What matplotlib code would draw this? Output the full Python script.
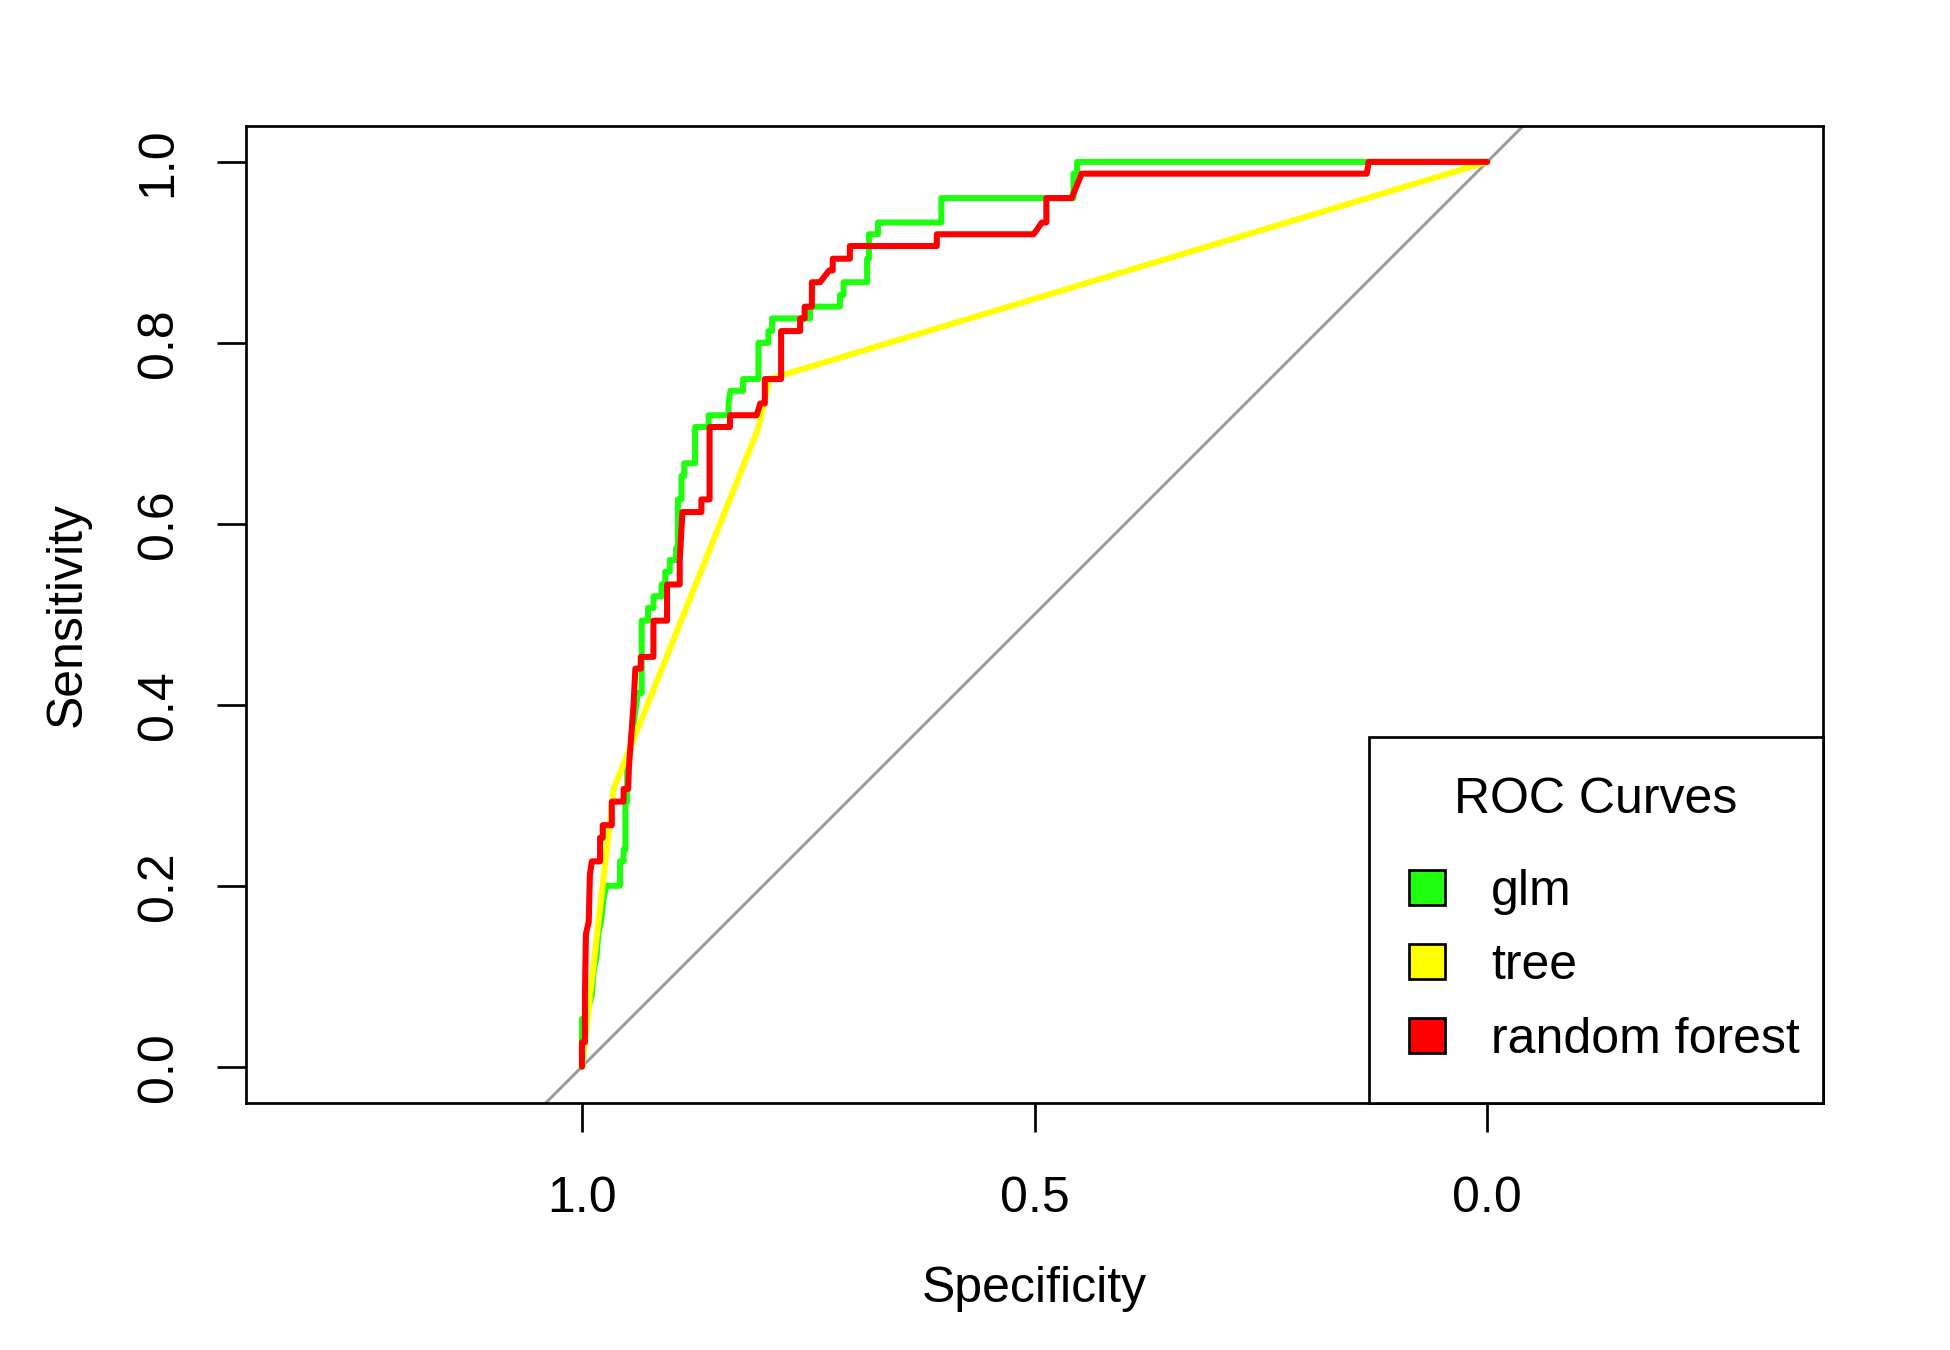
# ROC curves for three classifiers (glm, tree, random forest)
# specificity runs from 1 on the left to 0 on the right, like pROC draws it

import matplotlib
matplotlib.use("Agg")
import matplotlib.pyplot as plt
from matplotlib.patches import Patch

plt.rcParams["font.family"] = ["Liberation Sans", "DejaVu Sans"]

# ==========================================
# DATA
# ==========================================

glm_spec = [1.0, 1.0, 0.996, 0.989, 0.987, 0.984, 0.982, 0.979, 0.976, 0.973,
            0.958, 0.958, 0.954, 0.954, 0.952, 0.952, 0.95, 0.95, 0.945, 0.942,
            0.938, 0.934, 0.934, 0.927, 0.927, 0.921, 0.921, 0.912, 0.912, 0.908,
            0.908, 0.903, 0.903, 0.896, 0.896, 0.894, 0.894, 0.89, 0.89, 0.887,
            0.887, 0.875, 0.875, 0.86, 0.86, 0.838, 0.838, 0.836, 0.822, 0.822,
            0.805, 0.805, 0.794, 0.794, 0.79, 0.79, 0.748, 0.748, 0.715, 0.715,
            0.711, 0.711, 0.685, 0.685, 0.683, 0.683, 0.673, 0.673, 0.603, 0.603,
            0.457, 0.457, 0.453, 0.453, 0.0]
glm_sens = [0.0, 0.053, 0.053, 0.08, 0.107, 0.12, 0.147, 0.16, 0.187, 0.2,
            0.2, 0.227, 0.227, 0.24, 0.24, 0.293, 0.293, 0.333, 0.36, 0.387,
            0.413, 0.413, 0.493, 0.493, 0.507, 0.507, 0.52, 0.52, 0.533, 0.533,
            0.547, 0.547, 0.56, 0.56, 0.573, 0.573, 0.627, 0.627, 0.653, 0.653,
            0.667, 0.667, 0.707, 0.707, 0.72, 0.72, 0.733, 0.747, 0.747, 0.76,
            0.76, 0.8, 0.8, 0.813, 0.813, 0.827, 0.827, 0.84, 0.84, 0.853,
            0.853, 0.867, 0.867, 0.893, 0.893, 0.92, 0.92, 0.933, 0.933, 0.96,
            0.96, 0.987, 0.987, 1.0, 1.0]

tree_spec = [1.0, 0.965, 0.805, 0.793, 0.0]
tree_sens = [0.0, 0.307, 0.706, 0.76, 1.0]

rf_spec = [1.0, 1.0, 0.9967, 0.9967, 0.9956, 0.9925, 0.9912, 0.989, 0.98, 0.98,
           0.977, 0.977, 0.967, 0.967, 0.954, 0.954, 0.949, 0.948, 0.945, 0.943,
           0.941, 0.935, 0.935, 0.921, 0.921, 0.906, 0.906, 0.892, 0.892, 0.889,
           0.868, 0.868, 0.859, 0.859, 0.8365, 0.8365, 0.807, 0.803, 0.798, 0.798,
           0.78, 0.78, 0.759, 0.759, 0.754, 0.754, 0.746, 0.746, 0.737, 0.727,
           0.723, 0.723, 0.704, 0.704, 0.608, 0.608, 0.501, 0.492, 0.487, 0.487,
           0.459, 0.448, 0.133, 0.131, 0.0]
rf_sens = [0.0, 0.027, 0.027, 0.08, 0.147, 0.16, 0.213, 0.227, 0.227, 0.253,
           0.253, 0.267, 0.267, 0.293, 0.293, 0.307, 0.307, 0.333, 0.373, 0.4,
           0.44, 0.44, 0.453, 0.453, 0.493, 0.493, 0.533, 0.533, 0.56, 0.613,
           0.613, 0.627, 0.627, 0.707, 0.707, 0.72, 0.72, 0.733, 0.733, 0.76,
           0.76, 0.813, 0.813, 0.827, 0.827, 0.84, 0.84, 0.867, 0.867, 0.88,
           0.88, 0.893, 0.893, 0.907, 0.907, 0.92, 0.92, 0.933, 0.933, 0.96,
           0.96, 0.987, 0.987, 1.0, 1.0]

model_names = ["glm", "tree", "random forest"]
model_colors = ["#1eff0f", "#ffff00", "#ff0000"]

x_ticks = [1.0, 0.5, 0.0]
y_ticks = [0.0, 0.2, 0.4, 0.6, 0.8, 1.0]

# ==========================================
# PLOT
# ==========================================

fs = 24
fig = plt.figure(figsize=(13, 9), dpi=150)
ax = fig.add_axes([0.1262, 0.1830, 0.8087, 0.7239])

# chance line
ax.axline((1, 0), (0, 1), color="#9a9a9a", lw=1.4, zorder=1)

curves = [(glm_spec, glm_sens), (tree_spec, tree_sens), (rf_spec, rf_sens)]
for (sp, se), col in zip(curves, model_colors):
    ax.plot(sp, se, color=col, lw=2.9, solid_capstyle="round",
            solid_joinstyle="round", zorder=2)

ax.set_xlim(1.371, -0.371)
ax.set_ylim(-0.04, 1.04)
ax.set_xticks(x_ticks)
ax.set_xticklabels([f"{v:.1f}" for v in x_ticks])
ax.set_yticks(y_ticks)
ax.set_yticklabels([f"{v:.1f}" for v in y_ticks])

for sp in ax.spines.values():
    sp.set_linewidth(1.3)

ax.tick_params(axis="both", direction="out", length=14, width=1.3,
               labelsize=fs, colors="black")
ax.tick_params(axis="x", pad=21)
ax.tick_params(axis="y", pad=17)
for lab in ax.get_yticklabels():
    lab.set_rotation(90)
    lab.set_va("center")
    lab.set_ha("right")

ax.set_xlabel("Specificity", fontsize=fs)
ax.set_ylabel("Sensitivity", fontsize=fs)
ax.xaxis.label.set_va("center")
ax.yaxis.label.set_va("center")
ax.xaxis.set_label_coords(0.5, -0.19)
ax.yaxis.set_label_coords(-0.113, 0.5)

# legend box spans the lower right corner, entries kept to the left
handles = [Patch(facecolor=c, edgecolor="black", linewidth=1.3) for c in model_colors]
leg = ax.legend(handles, model_names, title="ROC Curves", loc="lower right",
                bbox_to_anchor=(0.7121, 0.0, 0.2879, 0.4), mode="expand",
                borderaxespad=0, fontsize=fs, title_fontsize=fs, frameon=True,
                fancybox=False, edgecolor="black", framealpha=1,
                handlelength=0.72, handleheight=0.72, handletextpad=0.92,
                labelspacing=0.56, borderpad=0.8)
leg.get_frame().set_linewidth(1.3)
# wider gap between the legend title and the entries
leg._legend_box.sep = 0.92 * fs

fig.savefig("out.png", dpi=150)
